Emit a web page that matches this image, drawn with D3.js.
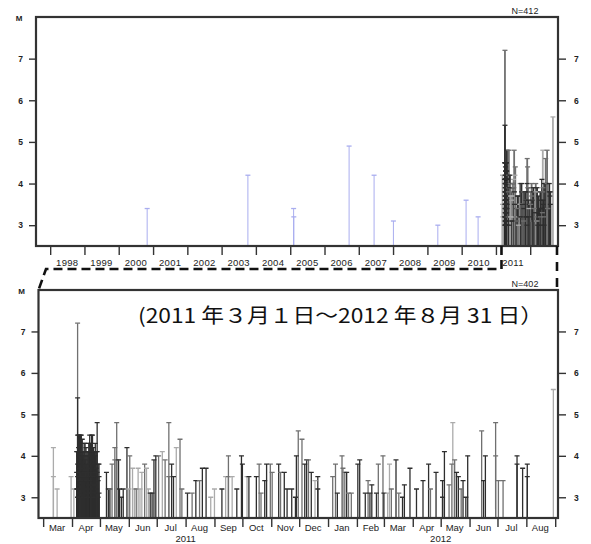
<!DOCTYPE html>
<html><head><meta charset="utf-8">
<script src="https://cdn.jsdelivr.net/npm/d3@7"></script>
<style>body{margin:0;background:#fff}svg{display:block}</style>
</head><body>
<svg id="c" width="591" height="544"></svg>
<script>
// ---------- DATA ----------
// background seismicity before 2011-03 (top panel only)
const bgDates = ["2000-10-30","2003-10-08","2005-02-06","2005-02-08","2006-09-20","2007-06-13","2008-01-05","2009-04-22","2010-02-17","2010-06-25"];
const bgMags  = [3.4,4.2,3.4,3.2,4.9,4.2,3.1,3.0,3.6,3.2];

// April 2011 swarm, magnitudes per day
const swarmDays = ["2011-04-06","2011-04-07","2011-04-08","2011-04-09","2011-04-10","2011-04-11","2011-04-12","2011-04-13","2011-04-14","2011-04-15","2011-04-16","2011-04-17","2011-04-18","2011-04-19","2011-04-20","2011-04-21","2011-04-22","2011-04-23","2011-04-24","2011-04-25","2011-04-26","2011-04-27","2011-04-28","2011-04-29","2011-04-30"];
const swarmMags = [
 [4.1,3.6,3.2],[5.4,4.5,4.1,3.8,3.5,3.2,3.0],[4.5,4.2,4.0,3.7,3.4,3.1],[4.5,4.1,3.9,3.6,3.3,3.0],[4.5,4.1,3.8,3.5,3.2],
 [4.5,4.0,3.7,3.4,3.1,3.0],[4.4,4.1,3.8,3.5,3.2],[4.1,4.0,3.6,3.3,3.0],[4.3,4.1,3.6,3.2],[4.3,3.9,3.5,3.1],
 [4.2,4.0,3.4,3.0],[4.1,3.8,3.6,3.2],[4.1,4.0,3.7,3.3],[4.3,4.1,3.5,3.1],[4.5,4.1,3.8,3.4,3.0],
 [4.3,4.0,3.5,3.1],[4.5,4.1,3.6,3.2],[4.5,4.0,3.8,3.3],[4.2,3.9,3.5,3.0],[4.1,3.8,3.3],
 [4.3,4.0,3.6,3.1],[4.1,3.7,3.2],[4.8,4.1,3.6,3.0],[3.8,3.4,3.0],[3.8,3.5,3.1]
];

// other events 2011-03-01 .. 2012-08-31
const quakeDates = [
 "2011-03-12","2011-03-12","2011-03-16","2011-03-31","2011-04-03",
 "2011-05-08","2011-05-10","2011-05-11","2011-05-12","2011-05-14",
 "2011-05-17","2011-05-17","2011-05-19","2011-05-19","2011-05-21",
 "2011-05-22","2011-05-24","2011-05-26","2011-05-30","2011-06-01",
 "2011-06-02","2011-06-05","2011-06-07","2011-06-09","2011-06-11",
 "2011-06-13","2011-06-15","2011-06-18","2011-06-20","2011-06-22",
 "2011-06-24","2011-06-26","2011-06-28","2011-06-30","2011-07-03",
 "2011-07-07","2011-07-10","2011-07-14","2011-07-14","2011-07-17",
 "2011-07-19","2011-07-22","2011-07-26","2011-07-28","2011-08-03",
 "2011-08-08","2011-08-12","2011-08-16","2011-08-19","2011-08-23",
 "2011-08-28","2011-09-01","2011-09-09","2011-09-13","2011-09-16",
 "2011-09-16","2011-09-20","2011-09-25","2011-09-30","2011-10-01",
 "2011-10-06","2011-10-08","2011-10-16","2011-10-19","2011-10-21",
 "2011-10-25","2011-10-27","2011-10-31","2011-11-02","2011-11-09",
 "2011-11-11","2011-11-15","2011-11-18","2011-11-23","2011-11-27",
 "2011-11-28","2011-11-30","2011-12-04","2011-12-07","2011-12-09",
 "2011-12-11","2011-12-14","2011-12-18","2011-12-21","2011-12-21",
 "2012-01-06","2012-01-09","2012-01-11","2012-01-16","2012-01-17",
 "2012-01-19","2012-01-21","2012-01-23","2012-01-26","2012-02-02",
 "2012-02-04","2012-02-10","2012-02-13","2012-02-15","2012-02-17",
 "2012-02-22","2012-02-24","2012-02-29","2012-03-01","2012-03-05",
 "2012-03-07","2012-03-09","2012-03-14","2012-03-17","2012-03-21",
 "2012-03-23","2012-03-29","2012-04-05","2012-04-12","2012-04-18",
 "2012-04-20","2012-04-26","2012-05-03","2012-05-03","2012-05-05",
 "2012-05-10","2012-05-13","2012-05-14","2012-05-16","2012-05-18",
 "2012-05-20","2012-05-23","2012-05-25","2012-05-28","2012-05-30",
 "2012-06-14","2012-06-16","2012-06-18","2012-06-29","2012-06-29",
 "2012-07-02","2012-07-07","2012-07-22","2012-07-22","2012-07-28",
 "2012-08-02","2012-08-02","2012-08-30","2011-04-07"
];
const quakeMags = [
 4.2,3.5,3.2,3.5,3.2,
 3.6,3.2,3.2,3.2,3.8,
 4.2,3.9,4.8,3.9,3.9,
 3.2,3.0,3.2,4.2,3.2,
 4.0,3.7,3.2,3.2,3.7,
 3.2,3.6,3.8,3.7,3.2,
 3.1,3.1,3.9,4.0,4.0,
 4.1,3.9,4.8,3.5,3.8,
 3.5,4.2,4.4,3.2,3.1,
 3.1,3.4,3.4,3.7,3.7,
 3.0,3.2,3.2,3.5,4.0,
 3.5,3.5,3.2,4.0,3.8,
 3.5,3.5,3.5,3.8,3.1,
 3.4,3.8,3.8,3.6,3.8,
 3.6,3.6,3.2,3.2,3.0,
 4.0,4.6,4.4,3.8,3.9,
 3.9,3.6,3.4,3.5,3.2,
 3.5,3.8,3.1,4.0,3.7,
 3.6,3.6,3.1,3.1,3.8,
 3.9,3.1,3.4,3.1,3.3,
 3.1,3.8,4.0,3.1,3.1,
 3.8,3.2,3.9,3.1,3.0,
 3.3,3.7,3.2,3.4,3.8,
 3.2,3.6,3.4,3.0,4.1,
 3.3,3.8,4.8,3.9,3.6,
 3.5,3.2,3.4,3.0,4.0,
 4.6,3.4,4.0,4.8,4.0,
 3.4,3.4,4.0,3.8,3.7,
 3.8,3.5,5.6,7.2
];
// depth class per event (d = deep / dark, m = intermediate, l = shallow / light)
const quakeDepthClass = ("lllll dddmm mmmmd ddddl mllml llmll ddddm lmmmd dlmmd mdmdd " +
 "lldlm mlddd lddmm ddmmd mdddd dmmdd mdldd mmdmm mdmmd ddmdd dmmdl lmdmd ddddd mdddd " +
 "mmlmd dmddd mddmm mmddd ddlm").replace(/ /g,"").split("");

const magTicks = [3,4,5,6,7];
const yearTickYears = d3.range(1998, 2013);
const yearLabelYears = d3.range(1998, 2012);
const monthNames = ["Mar","Apr","May","Jun","Jul","Aug","Sep","Oct","Nov","Dec","Jan","Feb","Mar","Apr","May","Jun","Jul","Aug"];
const periodText = "(2011 年３月１日～2012 年８月 31 日）";
const countTop = "N=412", countBottom = "N=402";

// ---------- DRAW ----------
const svg = d3.select("#c");
const parse = d3.utcParse("%Y-%m-%d");
const FONT = "'Liberation Sans', Arial, sans-serif";
const colorOf = d3.scaleOrdinal().domain(["d","m","l","bg"]).range(["#2e2e2e","#707070","#ababab","#a9adef"]);

const events = [];
quakeDates.forEach((s,i)=>events.push({t:parse(s), m:quakeMags[i], c:quakeDepthClass[i]}));
swarmDays.forEach((s,i)=>swarmMags[i].forEach(m=>events.push({t:parse(s), m:m, c:"d"})));
events.sort((a,b)=>(a.t-b.t) || (b.m-a.m));
const bgEvents = bgDates.map((s,i)=>({t:parse(s), m:bgMags[i], c:"bg"}));

function drawPanel(cfg){
  const g = svg.append("g");
  const x = d3.scaleUtc().domain(cfg.domain).range([cfg.x0, cfg.x1]);
  const y = d3.scaleLinear().domain([2.5, 8]).range([cfg.y1, cfg.y0]);
  const id = "clip"+cfg.name;
  svg.append("clipPath").attr("id", id).append("rect")
    .attr("x", cfg.x0).attr("y", cfg.y0).attr("width", cfg.x1-cfg.x0).attr("height", cfg.y1-cfg.y0);
  const marks = g.append("g").attr("clip-path", `url(#${id})`);
  const data = cfg.data;
  marks.selectAll("line.stem").data(data).join("line").attr("class","stem")
    .attr("x1", d=>x(d.t)).attr("x2", d=>x(d.t))
    .attr("y1", y(2.5)).attr("y2", d=>y(d.m))
    .attr("stroke", d=>colorOf(d.c)).attr("stroke-width", d=>d.c==="bg"?1:cfg.stemW);
  marks.selectAll("line.mk").data(data).join("line").attr("class","mk")
    .attr("x1", d=>x(d.t)-2.5).attr("x2", d=>x(d.t)+2.5)
    .attr("y1", d=>y(d.m)).attr("y2", d=>y(d.m))
    .attr("stroke", d=>colorOf(d.c)).attr("stroke-width", 1.3);

  const styleAxis = a => {
    a.select(".domain").remove();
    a.selectAll(".tick line").attr("stroke","#333").attr("stroke-width",1.4);
    a.selectAll(".tick text").attr("fill","#222").attr("font-family",FONT).attr("font-size",8.5).attr("font-weight","bold");
  };
  g.append("g").attr("transform",`translate(${cfg.x0},0)`)
    .call(d3.axisLeft(y).tickValues(magTicks).tickSize(7).tickPadding(6).tickFormat(d3.format("d"))).call(styleAxis);
  g.append("g").attr("transform",`translate(${cfg.x1},0)`)
    .call(d3.axisRight(y).tickValues(magTicks).tickSize(8).tickPadding(8).tickFormat(d3.format("d"))).call(styleAxis);
  g.append("g").attr("transform",`translate(0,${cfg.y1})`)
    .call(d3.axisBottom(x).tickValues(cfg.ticks).tickSize(9).tickFormat("")).call(styleAxis);

  g.append("rect").attr("x",cfg.x0).attr("y",cfg.y0).attr("width",cfg.x1-cfg.x0).attr("height",cfg.y1-cfg.y0)
    .attr("fill","none").attr("stroke","#333").attr("stroke-width",2.2);

  g.append("text").attr("x",cfg.x0-17).attr("y",cfg.y0+4).attr("text-anchor","middle")
    .attr("font-family",FONT).attr("font-size",8).attr("font-weight","bold").attr("fill","#222").text("M");
  g.append("text").attr("x",cfg.x1-33).attr("y",cfg.y0-3).attr("text-anchor","middle")
    .attr("font-family",FONT).attr("font-size",9).attr("fill","#222").text(cfg.count);

  g.selectAll("text.xl").data(cfg.labels).join("text").attr("class","xl")
    .attr("x", d=>x(d.t)).attr("y", cfg.y1+cfg.labelDy).attr("text-anchor","middle")
    .attr("font-family",FONT).attr("font-size",9.5).attr("fill","#222").attr("letter-spacing",cfg.ls)
    .text(d=>d.s);
  if (cfg.years) {
    g.selectAll("text.yl").data(cfg.years).join("text").attr("class","yl")
      .attr("x", d=>x(d.t)).attr("y", cfg.y1+24).attr("text-anchor","middle")
      .attr("font-family",FONT).attr("font-size",9.5).attr("fill","#222").text(d=>d.s);
  }
  return {x,y};
}

const topP = drawPanel({
  name:"top", x0:36, x1:558, y0:17, y1:246, stemW:1.8,
  domain:[parse("1997-08-03"), parse("2012-10-23")],
  data: bgEvents.concat(events),
  ticks: yearTickYears.map(yv=>new Date(Date.UTC(yv,0,1))),
  labels: yearLabelYears.map(yv=>({t:new Date(Date.UTC(yv,6,2)), s:String(yv)})),
  labelDy:20, ls:0.3, count:countTop
});

const monthStarts = d3.utcMonth.range(parse("2011-03-01"), parse("2012-09-02"));
const botP = drawPanel({
  name:"bot", x0:38.5, x1:558, y0:290, y1:518, stemW:1.3,
  domain:[parse("2011-02-24"), parse("2012-09-04")],
  data: events,
  ticks: monthStarts,
  labels: monthNames.map((s,i)=>({t:d3.utcDay.offset(monthStarts[i],15), s:s})),
  years:[{t:parse("2011-08-01"), s:"2011"},{t:parse("2012-05-01"), s:"2012"}],
  labelDy:13, ls:0, count:countBottom
});

// zoom connector (dashed)
const xa = topP.x(parse("2011-03-01"));
svg.append("path")
  .attr("d", `M${xa},246 L${xa},269 L46,269 L38.5,290`)
  .attr("fill","none").attr("stroke","#111").attr("stroke-width",2.6).attr("stroke-dasharray","9,5");
svg.append("path")
  .attr("d", `M557,246 L557,290`)
  .attr("fill","none").attr("stroke","#111").attr("stroke-width",2.6).attr("stroke-dasharray","9,7");

svg.append("text").attr("x",138).attr("y",323)
  .attr("font-family","'Noto Sans CJK JP', sans-serif").attr("font-size",20).attr("fill","#111")
  .attr("textLength",405).attr("lengthAdjust","spacingAndGlyphs").text(periodText);
</script>
</body></html>
